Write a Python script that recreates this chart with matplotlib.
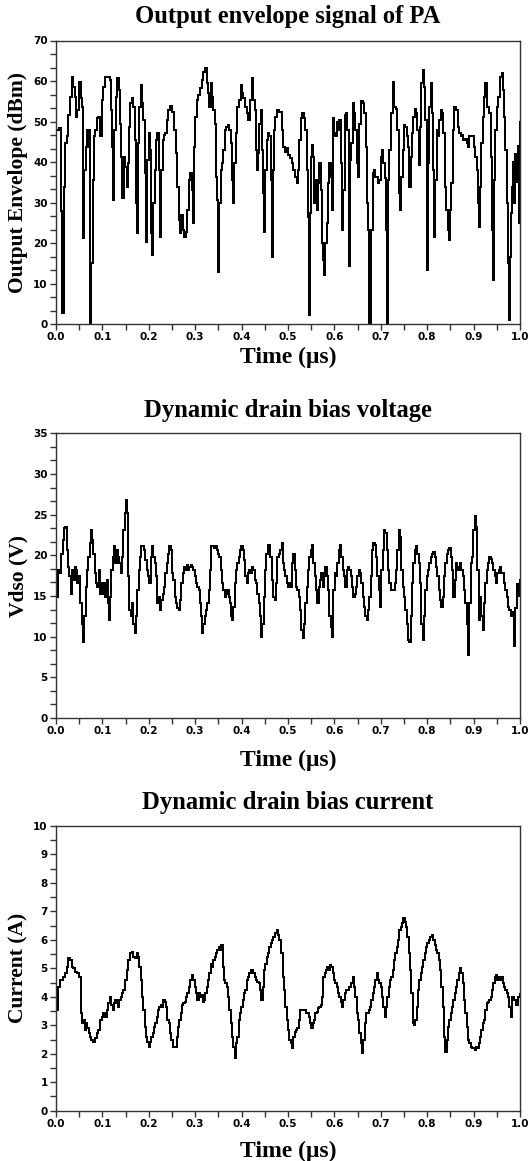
import numpy as np
import matplotlib
matplotlib.use("Agg")
import matplotlib.pyplot as plt
from matplotlib.ticker import MultipleLocator, FormatStrFormatter

# ---------------- data ----------------
# Output envelope (dBm) vs time (us)
env_t = [
    0.0000, 0.0072, 0.0101, 0.0136, 0.0172, 0.0201, 0.0230, 0.0266, 0.0302, 0.0338,
    0.0374, 0.0409, 0.0431, 0.0460, 0.0496, 0.0532, 0.0553, 0.0575, 0.0589, 0.0611,
    0.0639, 0.0661, 0.0682, 0.0711, 0.0733, 0.0761, 0.0790, 0.0819, 0.0848, 0.0876,
    0.0912, 0.0948, 0.0984, 0.1020, 0.1056, 0.1128, 0.1164, 0.1185, 0.1207, 0.1228,
    0.1257, 0.1286, 0.1315, 0.1358, 0.1387, 0.1408, 0.1430, 0.1458, 0.1487, 0.1523,
    0.1545, 0.1566, 0.1595, 0.1631, 0.1667, 0.1703, 0.1724, 0.1753, 0.1774, 0.1796,
    0.1825, 0.1853, 0.1882, 0.1911, 0.1940, 0.1968, 0.1997, 0.2026, 0.2047, 0.2076,
    0.2098, 0.2126, 0.2155, 0.2184, 0.2213, 0.2241, 0.2270, 0.2299, 0.2328, 0.2356,
    0.2385, 0.2421, 0.2457, 0.2500, 0.2543, 0.2586, 0.2615, 0.2644, 0.2672, 0.2701,
    0.2730, 0.2766, 0.2802, 0.2830, 0.2859, 0.2888, 0.2924, 0.2945, 0.2974, 0.3003,
    0.3032, 0.3068, 0.3103, 0.3139, 0.3175, 0.3211, 0.3247, 0.3283, 0.3305, 0.3333,
    0.3362, 0.3391, 0.3420, 0.3448, 0.3477, 0.3499, 0.3520, 0.3549, 0.3578, 0.3606,
    0.3635, 0.3664, 0.3700, 0.3736, 0.3772, 0.3800, 0.3822, 0.3843, 0.3872, 0.3908,
    0.3944, 0.3980, 0.4009, 0.4037, 0.4073, 0.4109, 0.4145, 0.4181, 0.4217, 0.4253,
    0.4282, 0.4310, 0.4325, 0.4353, 0.4382, 0.4411, 0.4440, 0.4461, 0.4483, 0.4511,
    0.4540, 0.4569, 0.4598, 0.4626, 0.4648, 0.4670, 0.4698, 0.4727, 0.4756, 0.4813,
    0.4864, 0.4899, 0.4935, 0.4971, 0.5007, 0.5043, 0.5079, 0.5115, 0.5151, 0.5187,
    0.5223, 0.5244, 0.5273, 0.5309, 0.5345, 0.5374, 0.5402, 0.5424, 0.5445, 0.5474,
    0.5496, 0.5517, 0.5539, 0.5560, 0.5589, 0.5618, 0.5647, 0.5675, 0.5704, 0.5726,
    0.5747, 0.5776, 0.5805, 0.5833, 0.5862, 0.5891, 0.5920, 0.5941, 0.5963, 0.5991,
    0.6013, 0.6049, 0.6078, 0.6106, 0.6135, 0.6164, 0.6193, 0.6221, 0.6250, 0.6279,
    0.6307, 0.6336, 0.6365, 0.6394, 0.6422, 0.6451, 0.6480, 0.6509, 0.6537, 0.6566,
    0.6609, 0.6645, 0.6674, 0.6695, 0.6724, 0.6739, 0.6767, 0.6796, 0.6825, 0.6853,
    0.6882, 0.6911, 0.6940, 0.6968, 0.6997, 0.7026, 0.7055, 0.7083, 0.7112, 0.7134,
    0.7162, 0.7184, 0.7220, 0.7256, 0.7292, 0.7328, 0.7356, 0.7385, 0.7414, 0.7443,
    0.7471, 0.7500, 0.7529, 0.7557, 0.7586, 0.7615, 0.7644, 0.7672, 0.7701, 0.7730,
    0.7759, 0.7787, 0.7816, 0.7845, 0.7874, 0.7902, 0.7931, 0.7960, 0.7989, 0.8017,
    0.8046, 0.8075, 0.8103, 0.8132, 0.8154, 0.8175, 0.8204, 0.8233, 0.8261, 0.8290,
    0.8319, 0.8348, 0.8376, 0.8405, 0.8441, 0.8470, 0.8491, 0.8520, 0.8549, 0.8578,
    0.8621, 0.8657, 0.8693, 0.8721, 0.8750, 0.8779, 0.8815, 0.8851, 0.8879, 0.8908,
    0.8937, 0.8980, 0.9009, 0.9037, 0.9066, 0.9088, 0.9109, 0.9138, 0.9167, 0.9195,
    0.9224, 0.9253, 0.9282, 0.9310, 0.9339, 0.9368, 0.9389, 0.9411, 0.9432, 0.9461,
    0.9497, 0.9533, 0.9569, 0.9605, 0.9626, 0.9655, 0.9684, 0.9713, 0.9734, 0.9756,
    0.9777, 0.9799, 0.9820, 0.9850, 0.9875, 0.9900, 0.9925, 0.9950, 0.9975, 1.0000,
]
env_v = [
    47.9, 48.3, 28.0, 2.8, 33.9, 44.6, 46.3, 51.6, 56.1, 61.1,
    58.6, 56.1, 51.2, 52.8, 59.8, 55.7, 53.7, 41.3, 21.2, 38.0,
    43.8, 47.9, 43.8, 47.9, 0.0, 15.0, 35.6, 46.3, 47.9, 50.8,
    51.2, 46.3, 55.3, 58.6, 61.1, 61.1, 60.2, 52.8, 43.8, 30.6,
    47.9, 56.1, 60.7, 57.8, 49.5, 41.3, 31.0, 41.3, 38.8, 33.9,
    39.7, 48.7, 54.5, 55.7, 53.7, 45.4, 29.8, 22.4, 44.6, 53.7,
    59.0, 54.5, 50.4, 37.2, 20.3, 40.5, 47.1, 43.0, 22.4, 17.0,
    29.8, 38.0, 45.4, 47.1, 38.0, 21.6, 38.0, 45.4, 46.7, 47.1,
    50.4, 52.8, 53.8, 52.4, 47.9, 42.1, 33.9, 25.7, 22.4, 26.9,
    23.2, 21.6, 22.8, 28.1, 35.6, 37.2, 33.1, 24.9, 43.8, 51.2,
    55.3, 56.5, 58.2, 60.2, 62.3, 63.1, 59.4, 57.0, 53.7, 59.4,
    56.1, 52.8, 49.5, 36.4, 30.6, 12.9, 29.8, 38.0, 39.7, 43.0,
    47.9, 48.7, 49.1, 47.9, 44.6, 35.6, 29.8, 39.7, 47.1, 53.7,
    55.3, 59.0, 57.0, 55.7, 53.7, 52.0, 50.4, 55.3, 60.7, 55.3,
    52.8, 43.0, 38.0, 42.1, 49.5, 52.8, 43.0, 32.3, 22.8, 38.0,
    45.4, 47.1, 46.3, 35.6, 16.6, 38.0, 47.9, 51.2, 52.8, 52.4,
    47.9, 43.8, 42.5, 43.4, 41.7, 40.9, 39.7, 38.0, 36.4, 34.7,
    38.0, 45.4, 50.8, 52.0, 50.8, 47.9, 38.0, 26.5, 2.2, 27.3,
    41.3, 44.2, 41.3, 29.8, 35.6, 28.1, 34.7, 39.7, 33.1, 19.9,
    15.8, 12.1, 19.9, 24.9, 34.7, 39.7, 36.4, 28.1, 50.8, 47.1,
    46.3, 50.0, 47.9, 50.4, 39.7, 23.2, 33.1, 51.6, 52.0, 47.9,
    14.2, 40.5, 44.6, 54.5, 52.0, 47.9, 39.7, 36.4, 49.5, 55.1,
    54.5, 52.0, 43.8, 29.8, 23.2, 0.0, 0.0, 23.2, 37.2, 38.0,
    36.4, 36.4, 34.7, 35.6, 41.3, 43.0, 39.7, 36.0, 23.2, 0.0,
    35.6, 43.0, 52.0, 59.8, 53.7, 53.2, 47.9, 32.3, 28.1, 36.4,
    43.0, 49.1, 48.7, 46.3, 43.8, 33.9, 41.3, 47.1, 51.2, 53.2,
    52.0, 47.9, 39.3, 48.7, 59.4, 62.7, 58.6, 50.4, 13.3, 39.7,
    53.7, 59.4, 52.0, 38.0, 21.6, 35.6, 47.9, 46.3, 50.4, 52.8,
    52.0, 47.1, 33.9, 28.1, 23.2, 20.7, 28.1, 34.7, 47.9, 53.5,
    52.8, 48.7, 47.1, 46.3, 46.7, 45.4, 45.8, 44.6, 43.8, 46.3,
    46.3, 46.3, 43.8, 41.3, 38.0, 29.8, 24.0, 33.9, 44.6, 51.2,
    56.1, 59.4, 53.7, 53.7, 52.0, 41.3, 23.2, 10.9, 35.6, 47.9,
    53.7, 56.1, 61.1, 61.9, 57.8, 51.2, 43.0, 29.8, 15.0, 1.0,
    16.6, 27.3, 33.9, 40.0, 30.0, 42.0, 35.0, 44.0, 25.0, 50.0,
]

# Dynamic drain bias voltage (V) vs time (us)
vds_t = [
    0.0000, 0.0043, 0.0086, 0.0115, 0.0144, 0.0172, 0.0201, 0.0230, 0.0259, 0.0287,
    0.0316, 0.0345, 0.0374, 0.0402, 0.0431, 0.0460, 0.0489, 0.0517, 0.0553, 0.0582,
    0.0611, 0.0639, 0.0668, 0.0697, 0.0726, 0.0747, 0.0776, 0.0805, 0.0833, 0.0862,
    0.0891, 0.0920, 0.0948, 0.0977, 0.1006, 0.1034, 0.1063, 0.1092, 0.1121, 0.1142,
    0.1164, 0.1193, 0.1221, 0.1250, 0.1279, 0.1307, 0.1336, 0.1365, 0.1394, 0.1422,
    0.1451, 0.1480, 0.1509, 0.1537, 0.1559, 0.1580, 0.1609, 0.1638, 0.1667, 0.1695,
    0.1724, 0.1753, 0.1782, 0.1810, 0.1839, 0.1868, 0.1897, 0.1925, 0.1954, 0.1983,
    0.2011, 0.2040, 0.2069, 0.2098, 0.2126, 0.2155, 0.2184, 0.2213, 0.2241, 0.2270,
    0.2299, 0.2328, 0.2356, 0.2385, 0.2414, 0.2443, 0.2471, 0.2500, 0.2529, 0.2557,
    0.2586, 0.2615, 0.2644, 0.2672, 0.2701, 0.2730, 0.2759, 0.2787, 0.2816, 0.2845,
    0.2874, 0.2902, 0.2931, 0.2960, 0.2989, 0.3017, 0.3046, 0.3075, 0.3103, 0.3125,
    0.3147, 0.3175, 0.3204, 0.3233, 0.3261, 0.3290, 0.3319, 0.3348, 0.3376, 0.3405,
    0.3434, 0.3463, 0.3491, 0.3520, 0.3549, 0.3578, 0.3606, 0.3635, 0.3664, 0.3693,
    0.3721, 0.3750, 0.3779, 0.3800, 0.3822, 0.3851, 0.3879, 0.3908, 0.3937, 0.3966,
    0.3994, 0.4023, 0.4052, 0.4080, 0.4109, 0.4138, 0.4167, 0.4195, 0.4224, 0.4253,
    0.4282, 0.4310, 0.4339, 0.4368, 0.4397, 0.4418, 0.4447, 0.4476, 0.4504, 0.4533,
    0.4562, 0.4591, 0.4619, 0.4648, 0.4684, 0.4713, 0.4741, 0.4770, 0.4799, 0.4828,
    0.4864, 0.4885, 0.4914, 0.4943, 0.4971, 0.5000, 0.5029, 0.5057, 0.5086, 0.5115,
    0.5144, 0.5172, 0.5201, 0.5230, 0.5259, 0.5287, 0.5316, 0.5345, 0.5374, 0.5402,
    0.5431, 0.5460, 0.5489, 0.5517, 0.5546, 0.5575, 0.5603, 0.5632, 0.5661, 0.5690,
    0.5718, 0.5747, 0.5776, 0.5805, 0.5833, 0.5862, 0.5891, 0.5920, 0.5948, 0.5977,
    0.6006, 0.6034, 0.6063, 0.6092, 0.6121, 0.6149, 0.6178, 0.6207, 0.6236, 0.6264,
    0.6293, 0.6322, 0.6351, 0.6379, 0.6408, 0.6437, 0.6466, 0.6494, 0.6523, 0.6552,
    0.6580, 0.6609, 0.6638, 0.6667, 0.6695, 0.6724, 0.6753, 0.6782, 0.6810, 0.6839,
    0.6868, 0.6897, 0.6925, 0.6954, 0.6983, 0.7011, 0.7040, 0.7069, 0.7098, 0.7126,
    0.7155, 0.7184, 0.7213, 0.7241, 0.7270, 0.7299, 0.7328, 0.7356, 0.7385, 0.7414,
    0.7443, 0.7471, 0.7500, 0.7529, 0.7557, 0.7586, 0.7615, 0.7644, 0.7672, 0.7701,
    0.7730, 0.7759, 0.7787, 0.7816, 0.7845, 0.7874, 0.7902, 0.7931, 0.7960, 0.7989,
    0.8017, 0.8046, 0.8075, 0.8103, 0.8132, 0.8161, 0.8190, 0.8218, 0.8247, 0.8276,
    0.8305, 0.8333, 0.8362, 0.8391, 0.8420, 0.8448, 0.8477, 0.8506, 0.8534, 0.8563,
    0.8592, 0.8621, 0.8649, 0.8678, 0.8707, 0.8736, 0.8764, 0.8793, 0.8822, 0.8851,
    0.8879, 0.8908, 0.8937, 0.8966, 0.8994, 0.9023, 0.9052, 0.9080, 0.9109, 0.9138,
    0.9167, 0.9195, 0.9224, 0.9253, 0.9282, 0.9310, 0.9339, 0.9368, 0.9397, 0.9425,
    0.9454, 0.9483, 0.9511, 0.9540, 0.9569, 0.9598, 0.9626, 0.9655, 0.9684, 0.9713,
    0.9741, 0.9770, 0.9799, 0.9828, 0.9870, 0.9900, 0.9930, 0.9960, 1.0000,
]
vds_v = [
    14.9, 18.2, 17.8, 20.2, 21.9, 23.3, 23.5, 20.7, 18.6, 17.4,
    15.3, 18.2, 17.0, 18.6, 18.2, 16.6, 17.4, 14.1, 11.6, 9.4,
    12.5, 16.1, 18.2, 19.8, 21.5, 23.1, 21.9, 20.2, 17.8, 16.6,
    16.1, 18.2, 15.3, 16.6, 15.3, 16.6, 14.9, 17.0, 14.1, 12.0,
    14.9, 18.2, 19.8, 21.1, 19.0, 20.7, 19.8, 19.0, 17.8, 19.8,
    23.1, 25.2, 26.8, 25.2, 17.4, 13.3, 12.5, 14.1, 11.6, 10.4,
    12.5, 15.7, 18.2, 19.8, 21.1, 21.1, 20.7, 19.4, 18.2, 17.4,
    16.6, 19.8, 21.1, 19.8, 19.0, 17.4, 14.1, 14.9, 13.3, 14.5,
    15.3, 16.1, 17.8, 19.0, 20.2, 21.1, 20.7, 17.8, 17.0, 14.9,
    14.1, 13.5, 13.3, 14.5, 16.6, 17.8, 18.6, 18.2, 18.8, 18.2,
    18.6, 18.8, 18.6, 18.2, 17.4, 16.6, 16.1, 15.7, 14.1, 12.5,
    10.4, 11.6, 12.5, 13.3, 14.1, 15.7, 18.2, 21.1, 21.1, 20.9,
    21.1, 20.7, 20.2, 19.8, 18.2, 16.6, 15.7, 14.9, 15.3, 15.7,
    14.9, 14.1, 12.5, 12.0, 13.7, 16.6, 18.2, 19.0, 19.8, 20.7,
    21.1, 20.7, 19.4, 17.4, 16.6, 17.8, 18.2, 17.8, 18.6, 18.2,
    17.0, 16.6, 15.3, 14.1, 12.5, 10.0, 11.6, 14.9, 18.2, 20.2,
    21.3, 21.3, 19.8, 17.0, 14.9, 14.5, 16.6, 19.8, 20.2, 20.7,
    21.5, 19.0, 18.2, 17.4, 16.6, 16.1, 16.6, 16.1, 19.0, 20.2,
    18.2, 16.1, 15.7, 14.9, 13.3, 10.8, 9.8, 11.6, 14.1, 16.1,
    18.2, 19.8, 20.7, 21.3, 19.0, 17.4, 15.7, 14.1, 16.1, 17.0,
    17.8, 16.1, 17.4, 18.6, 17.4, 15.7, 12.5, 11.2, 10.0, 15.7,
    17.8, 17.4, 19.0, 20.7, 21.3, 19.8, 18.2, 17.4, 16.1, 18.2,
    18.6, 18.2, 17.4, 16.1, 14.9, 15.3, 16.1, 17.4, 18.2, 17.8,
    16.6, 14.9, 13.7, 12.5, 12.0, 13.3, 14.9, 17.4, 20.7, 21.5,
    21.3, 19.8, 17.4, 15.7, 13.7, 18.2, 20.7, 23.1, 22.7, 20.7,
    18.2, 16.6, 15.7, 15.7, 15.7, 16.6, 18.2, 20.7, 23.1, 22.3,
    18.2, 16.1, 14.9, 13.3, 11.6, 9.6, 9.4, 12.5, 16.6, 19.0,
    20.7, 21.1, 20.2, 19.0, 16.6, 11.6, 9.6, 12.5, 15.7, 17.4,
    18.2, 19.0, 19.8, 20.2, 20.4, 19.8, 18.6, 17.4, 15.7, 14.5,
    13.7, 14.9, 17.4, 19.0, 20.2, 20.7, 20.9, 19.8, 18.2, 14.9,
    17.0, 19.0, 18.2, 18.6, 19.0, 18.2, 17.4, 15.7, 14.1, 11.6,
    7.7, 14.1, 19.0, 19.8, 23.1, 24.8, 23.5, 18.2, 12.0, 14.9,
    12.5, 10.8, 14.1, 16.6, 18.2, 19.0, 19.8, 19.6, 19.0, 18.2,
    17.4, 16.6, 17.8, 18.2, 18.6, 17.8, 17.8, 16.6, 15.7, 14.9,
    13.7, 13.3, 12.5, 13.0, 8.8, 13.5, 16.5, 15.0, 17.0,
]

# Dynamic drain bias current (A) vs time (us)
cur_t = [
    0.0000, 0.0043, 0.0086, 0.0122, 0.0158, 0.0194, 0.0230, 0.0266, 0.0302, 0.0338,
    0.0374, 0.0409, 0.0445, 0.0481, 0.0503, 0.0532, 0.0560, 0.0589, 0.0618, 0.0647,
    0.0675, 0.0704, 0.0733, 0.0761, 0.0805, 0.0841, 0.0876, 0.0912, 0.0948, 0.0984,
    0.1020, 0.1056, 0.1092, 0.1128, 0.1164, 0.1193, 0.1221, 0.1250, 0.1279, 0.1307,
    0.1336, 0.1365, 0.1394, 0.1422, 0.1451, 0.1487, 0.1523, 0.1559, 0.1595, 0.1631,
    0.1667, 0.1703, 0.1739, 0.1774, 0.1796, 0.1825, 0.1853, 0.1882, 0.1911, 0.1940,
    0.1968, 0.1997, 0.2026, 0.2055, 0.2083, 0.2112, 0.2141, 0.2170, 0.2198, 0.2227,
    0.2256, 0.2284, 0.2313, 0.2342, 0.2371, 0.2399, 0.2428, 0.2457, 0.2486, 0.2514,
    0.2543, 0.2572, 0.2601, 0.2629, 0.2658, 0.2687, 0.2716, 0.2744, 0.2773, 0.2802,
    0.2830, 0.2859, 0.2888, 0.2924, 0.2960, 0.2989, 0.3017, 0.3046, 0.3075, 0.3103,
    0.3132, 0.3161, 0.3190, 0.3218, 0.3247, 0.3276, 0.3305, 0.3333, 0.3362, 0.3391,
    0.3420, 0.3448, 0.3477, 0.3506, 0.3534, 0.3563, 0.3592, 0.3621, 0.3649, 0.3678,
    0.3707, 0.3736, 0.3764, 0.3793, 0.3822, 0.3851, 0.3879, 0.3908, 0.3937, 0.3966,
    0.3994, 0.4023, 0.4052, 0.4080, 0.4109, 0.4138, 0.4167, 0.4195, 0.4224, 0.4253,
    0.4282, 0.4310, 0.4339, 0.4368, 0.4397, 0.4425, 0.4454, 0.4483, 0.4511, 0.4540,
    0.4569, 0.4598, 0.4626, 0.4655, 0.4684, 0.4713, 0.4756, 0.4784, 0.4813,
    0.4856, 0.4885, 0.4914, 0.4943, 0.4971, 0.5000, 0.5029, 0.5057, 0.5086, 0.5115,
    0.5144, 0.5172, 0.5201, 0.5230, 0.5259, 0.5302, 0.5345, 0.5388, 0.5417, 0.5445,
    0.5474, 0.5503, 0.5532, 0.5560, 0.5589, 0.5618, 0.5647, 0.5675, 0.5704, 0.5733,
    0.5761, 0.5790, 0.5819, 0.5848, 0.5876, 0.5905, 0.5934, 0.5963, 0.5991, 0.6020,
    0.6049, 0.6078, 0.6106, 0.6135, 0.6164, 0.6193, 0.6221, 0.6250, 0.6279, 0.6307,
    0.6336, 0.6365, 0.6394, 0.6422, 0.6451, 0.6480, 0.6509, 0.6537, 0.6566, 0.6595,
    0.6624, 0.6652, 0.6681, 0.6710, 0.6739, 0.6767, 0.6796, 0.6825, 0.6853, 0.6882,
    0.6911, 0.6940, 0.6968, 0.6997, 0.7026, 0.7055, 0.7083, 0.7112, 0.7141, 0.7170,
    0.7198, 0.7227, 0.7256, 0.7284, 0.7313, 0.7342, 0.7371, 0.7399, 0.7428, 0.7457,
    0.7486, 0.7514, 0.7543, 0.7572, 0.7601, 0.7629, 0.7658, 0.7687, 0.7716, 0.7744,
    0.7773, 0.7802, 0.7830, 0.7859, 0.7888, 0.7917, 0.7945, 0.7974, 0.8003, 0.8032,
    0.8060, 0.8096, 0.8132, 0.8161, 0.8190, 0.8218, 0.8247, 0.8276, 0.8305, 0.8333,
    0.8362, 0.8391, 0.8420, 0.8448, 0.8477, 0.8506, 0.8534, 0.8563, 0.8592, 0.8621,
    0.8649, 0.8678, 0.8707, 0.8736, 0.8764, 0.8793, 0.8822, 0.8851, 0.8879, 0.8908,
    0.8937, 0.8966, 0.8994, 0.9023, 0.9052, 0.9080, 0.9109, 0.9138, 0.9167, 0.9195,
    0.9224, 0.9253, 0.9282, 0.9310, 0.9339, 0.9368, 0.9397, 0.9425, 0.9454, 0.9483,
    0.9511, 0.9540, 0.9569, 0.9598, 0.9626, 0.9655, 0.9684, 0.9713, 0.9741, 0.9770,
    0.9799, 0.9828, 0.9870, 0.9920, 0.9960, 1.0000,
]
cur_v = [
    3.54, 4.36, 4.59, 4.59, 4.71, 4.82, 5.06, 5.35, 5.29, 5.06,
    5.00, 4.88, 4.82, 4.82, 4.71, 3.42, 3.07, 3.18, 2.83, 3.07,
    2.89, 2.72, 2.60, 2.48, 2.42, 2.54, 2.72, 2.83, 3.18, 3.30,
    3.42, 3.30, 3.54, 3.77, 4.00, 3.71, 3.54, 3.77, 3.89, 3.77,
    3.65, 3.89, 4.00, 4.12, 4.24, 4.59, 4.94, 5.29, 5.53, 5.58,
    5.41, 5.35, 5.53, 5.41, 5.06, 4.59, 4.00, 3.54, 2.95, 2.60,
    2.42, 2.25, 2.42, 2.60, 2.72, 2.95, 3.07, 3.30, 3.54, 3.65,
    3.71, 3.65, 3.89, 3.83, 3.65, 3.18, 3.07, 2.72, 2.48, 2.25,
    2.22, 2.25, 2.60, 2.95, 3.18, 3.42, 3.71, 3.77, 3.83, 4.00,
    4.12, 4.36, 4.59, 4.77, 4.59, 4.36, 4.12, 3.89, 4.12, 4.00,
    4.06, 3.83, 3.89, 4.12, 4.36, 4.59, 4.82, 5.17, 5.06, 5.29,
    5.41, 5.53, 5.64, 5.76, 5.64, 5.82, 5.06, 4.59, 4.47, 4.36,
    4.00, 3.54, 3.07, 2.60, 2.25, 1.84, 2.37, 2.60, 3.18, 3.42,
    3.65, 3.89, 4.12, 4.24, 4.59, 4.71, 4.82, 4.94, 4.94, 4.82,
    4.71, 4.59, 4.53, 4.47, 4.24, 3.89, 4.36, 4.94, 5.17, 5.41,
    5.53, 5.76, 5.88, 5.99, 6.11, 6.23, 6.35, 6.17, 5.99,
    5.53, 4.71, 4.24, 3.65, 3.18, 2.83, 2.48, 2.37, 2.19, 2.60,
    2.77, 2.83, 2.89, 3.18, 3.54, 3.54, 3.54, 3.42, 3.42, 3.30,
    3.07, 2.89, 3.07, 3.18, 3.42, 3.48, 3.59, 3.65, 3.71, 4.00,
    4.71, 4.82, 4.94, 5.06, 4.94, 5.12, 5.06, 4.82, 4.59, 4.47,
    4.36, 4.12, 4.00, 3.83, 3.65, 3.89, 4.12, 4.24, 4.24, 4.36,
    4.36, 4.47, 4.71, 4.36, 4.00, 3.42, 3.18, 2.72, 2.37, 2.01,
    2.48, 3.07, 3.42, 3.42, 3.54, 3.65, 3.89, 4.12, 4.36, 4.59,
    4.82, 4.59, 4.47, 4.36, 4.00, 3.65, 3.30, 3.65, 4.00, 4.36,
    4.59, 4.71, 4.94, 5.29, 5.53, 5.76, 5.99, 6.35, 6.46, 6.58,
    6.76, 6.64, 6.46, 6.11, 5.53, 4.94, 4.12, 3.07, 3.01, 3.18,
    3.65, 4.24, 4.59, 4.82, 5.06, 5.29, 5.53, 5.76, 5.88, 5.99,
    6.11, 6.17, 5.99, 5.82, 5.64, 5.53, 5.29, 4.94, 4.36, 3.65,
    2.60, 2.07, 2.48, 2.95, 3.18, 3.42, 3.65, 3.89, 4.12, 4.36,
    4.59, 4.82, 5.00, 4.82, 4.47, 3.89, 3.42, 2.95, 2.48, 2.37,
    2.25, 2.19, 2.19, 2.13, 2.25, 2.19, 2.37, 2.60, 2.83, 3.07,
    3.18, 3.54, 3.77, 3.83, 3.89, 4.00, 4.24, 4.47, 4.71, 4.77,
    4.59, 4.71, 4.59, 4.71, 4.47, 4.36, 4.24, 4.12, 4.00, 3.65,
    3.30, 4.00, 3.90, 3.70, 4.00, 4.10,
]

x_ticks = [0.0, 0.1, 0.2, 0.3, 0.4, 0.5, 0.6, 0.7, 0.8, 0.9, 1.0]

panels = [
    dict(t=env_t, v=env_v, title="Output envelope signal of PA",
         ylabel="Output Envelope (dBm)", ylim=(0, 70), major=10, minor=10 / 3),
    dict(t=vds_t, v=vds_v, title="Dynamic drain bias voltage",
         ylabel="Vdso (V)", ylim=(0, 35), major=5, minor=5 / 3),
    dict(t=cur_t, v=cur_v, title="Dynamic drain bias current",
         ylabel="Current (A)", ylim=(0, 10), major=1, minor=0.5),
]

# ---------------- layout ----------------
W, H = 531, 1161
fig = plt.figure(figsize=(W / 100, H / 100), dpi=100)
fig.patch.set_facecolor("white")

left_px, right_px = 56, 520
boxes = [(40.5, 324.0), (433.3, 718.0), (826.0, 1110.7)]  # top, bottom (px)
title_y = [16, 411, 802]
xlabel_y = [357, 760, 1151]

serif = ["Liberation Serif", "DejaVu Serif"]

for p, (top, bot), ty, xy in zip(panels, boxes, title_y, xlabel_y):
    ax = fig.add_axes([left_px / W, 1 - bot / H, (right_px - left_px) / W, (bot - top) / H])
    n = min(len(p["t"]), len(p["v"]))
    ax.plot(p["t"][:n], p["v"][:n], color="black", lw=1.45, drawstyle="steps-post",
            solid_joinstyle="miter")
    ax.set_xlim(0, 1.0)
    ax.set_ylim(*p["ylim"])
    ax.set_xticks(x_ticks)
    ax.xaxis.set_minor_locator(MultipleLocator(0.05))
    ax.yaxis.set_major_locator(MultipleLocator(p["major"]))
    ax.yaxis.set_minor_locator(MultipleLocator(p["minor"]))
    ax.xaxis.set_major_formatter(FormatStrFormatter("%.1f"))
    ax.yaxis.set_major_formatter(FormatStrFormatter("%d"))
    ax.tick_params(which="both", direction="out", top=False, right=False,
                   width=1.0, color="#333333")
    ax.tick_params(which="major", length=4, pad=2)
    ax.tick_params(which="minor", length=4)
    for lab in ax.get_xticklabels() + ax.get_yticklabels():
        lab.set_fontfamily("DejaVu Sans")
        lab.set_fontweight("bold")
        lab.set_fontsize(7.5)
    for s in ax.spines.values():
        s.set_linewidth(1.0)
        s.set_color("#333333")

    ax.set_ylabel(p["ylabel"], fontfamily=serif, fontweight="bold", fontsize=15.5)
    ax.yaxis.set_label_coords((18 - left_px) / (right_px - left_px), 0.5)
    ax.yaxis.label.set_va("center")

    fig.text(0.5 * (left_px + right_px) / W, 1 - ty / H, p["title"], ha="center",
             va="center", fontfamily=serif, fontweight="bold", fontsize=17.7)
    fig.text(0.5 * (left_px + right_px) / W, 1 - xy / H, "Time (\u03bcs)", ha="center",
             va="center", fontfamily=serif, fontweight="bold", fontsize=17)

fig.savefig("out.png", dpi=100, facecolor="white")
